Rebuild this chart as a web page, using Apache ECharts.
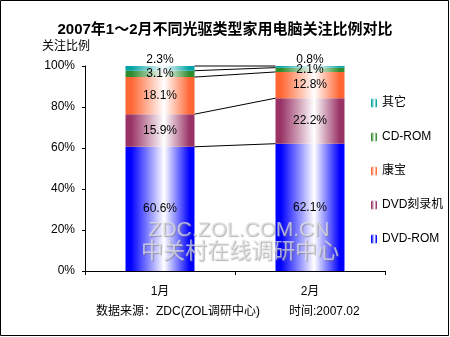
<!DOCTYPE html>
<html>
<head>
<meta charset="utf-8">
<script src="https://cdn.jsdelivr.net/npm/echarts@6/dist/echarts.min.js"></script>
<style>
  html, body { margin: 0; padding: 0; background: #fff; }
  #chart { width: 450px; height: 337px; }
</style>
</head>
<body>
<div id="chart"></div>
<script>
// Months on the x axis
const months = ['1月', '2月'];

// Share of attention (%) by optical drive type, bottom to top of each stack
const dvdRom = [60.6, 62.1];
const dvdBurner = [15.9, 22.2];
const combo = [18.1, 12.8];
const cdRom = [3.1, 2.1];
const other = [2.3, 0.8];

// Y axis tick values
const yTicks = [0, 20, 40, 60, 80, 100];

const seriesNames = ['DVD-ROM', 'DVD刻录机', '康宝', 'CD-ROM', '其它'];
const seriesValues = [dvdRom, dvdBurner, combo, cdRom, other];
const seriesColors = ['#0000FF', '#993366', '#FF6633', '#2E8B2E', '#00A3A3'];

const BAR_RATIO = 0.46;
const FONT = '"Liberation Sans", Arial, "Noto Sans CJK SC", sans-serif';

// Horizontal shading: saturated edges, pale centre
function shade(color) {
  return new echarts.graphic.LinearGradient(0, 0, 1, 0, [
    { offset: 0, color: color },
    { offset: 0.08, color: color },
    { offset: 0.56, color: '#FFFFFF' },
    { offset: 0.93, color: color },
    { offset: 1, color: color }
  ]);
}

// Running totals per month: the top edge of every stacked segment
const boundaries = [];
const run = [0, 0];
seriesValues.forEach(function (vals) {
  run[0] += vals[0];
  run[1] += vals[1];
  boundaries.push([0, +run[0].toFixed(1), +run[1].toFixed(1)]);
});

const barSeries = seriesNames.map(function (name, i) {
  const isTop = i === seriesNames.length - 1;
  return {
    name: name,
    type: 'bar',
    stack: 'share',
    barWidth: (BAR_RATIO * 100) + '%',
    data: seriesValues[i],
    itemStyle: { color: shade(seriesColors[i]) },
    label: {
      show: true,
      position: isTop ? 'top' : 'inside',
      distance: 0,
      formatter: function (p) { return p.value.toFixed(1) + '%'; },
      color: '#000',
      fontSize: 12,
      fontFamily: FONT
    },
    emphasis: { disabled: true },
    z: 2
  };
});

// Series lines joining matching segment tops between the two bars
const connectorSeries = {
  type: 'custom',
  name: 'connectors',
  silent: true,
  clip: false,
  encode: { x: 0, y: [1, 2] },
  data: boundaries,
  renderItem: function (params, api) {
    const p1 = api.coord([0, api.value(1)]);
    const p2 = api.coord([1, api.value(2)]);
    const band = api.size([1, 0])[0];
    const half = band * BAR_RATIO / 2;
    return {
      type: 'line',
      shape: { x1: p1[0] + half, y1: p1[1], x2: p2[0] - half, y2: p2[1] },
      style: { stroke: '#000', lineWidth: 1 }
    };
  },
  z: 3
};

// Embossed watermark text style
function embossed(text, size) {
  return {
    text: text,
    fontSize: size,
    fontFamily: FONT,
    align: 'center',
    verticalAlign: 'middle',
    fill: 'rgba(228,228,228,0.7)',
    textShadowColor: 'rgba(110,110,110,0.75)',
    textShadowOffsetX: 1,
    textShadowOffsetY: 1,
    textShadowBlur: 1
  };
}

const chart = echarts.init(document.getElementById('chart'), null, { renderer: 'canvas' });

chart.setOption({
  animation: false,
  backgroundColor: '#fff',
  textStyle: { fontFamily: FONT },
  title: {
    text: '2007年1～2月不同光驱类型家用电脑关注比例对比',
    left: 'center',
    top: 17,
    textStyle: { fontSize: 15, fontWeight: 'bold', color: '#000', fontFamily: FONT }
  },
  grid: { left: 85, right: 65, top: 66, bottom: 66, containLabel: false },
  legend: {
    orient: 'vertical',
    left: 366,
    top: 92,
    itemWidth: 6,
    itemHeight: 9,
    itemGap: 22,
    data: ['其它', 'CD-ROM', '康宝', 'DVD刻录机', 'DVD-ROM'],
    textStyle: { fontSize: 12, color: '#000', fontFamily: FONT },
    selectedMode: false
  },
  xAxis: {
    type: 'category',
    data: months,
    axisLine: { lineStyle: { color: '#000' } },
    axisTick: { show: true, alignWithLabel: false, length: 4, lineStyle: { color: '#000' } },
    axisLabel: { color: '#000', fontSize: 12, margin: 15, fontFamily: FONT }
  },
  yAxis: {
    type: 'value',
    min: yTicks[0],
    max: yTicks[yTicks.length - 1],
    interval: yTicks[1] - yTicks[0],
    axisLine: { show: true, lineStyle: { color: '#000' } },
    axisTick: { show: true, length: 3, lineStyle: { color: '#000' } },
    splitLine: { show: false },
    axisLabel: { color: '#000', fontSize: 12, margin: 10, formatter: '{value}%', fontFamily: FONT }
  },
  graphic: [
    {
      type: 'rect',
      shape: { x: 0.5, y: 0.5, width: 448, height: 335 },
      style: { fill: 'none', stroke: '#000', lineWidth: 1 },
      silent: true,
      z: 100
    },
    {
      type: 'text',
      left: 42,
      top: 41,
      style: { text: '关注比例', fontSize: 12, fill: '#000', fontFamily: FONT }
    },
    {
      type: 'text',
      x: 239,
      y: 230,
      style: embossed('ZDC.ZOL.COM.CN', 21),
      silent: true,
      z: 50
    },
    {
      type: 'text',
      x: 240,
      y: 252,
      style: embossed('中关村在线调研中心', 22),
      silent: true,
      z: 50
    },
    {
      type: 'text',
      left: 96,
      top: 306,
      style: { text: '数据来源：ZDC(ZOL调研中心)', fontSize: 12, fill: '#000', fontFamily: FONT }
    },
    {
      type: 'text',
      left: 289,
      top: 306,
      style: { text: '时间:2007.02', fontSize: 12, fill: '#000', fontFamily: FONT }
    }
  ],
  series: barSeries.concat([connectorSeries])
});
</script>
</body>
</html>
